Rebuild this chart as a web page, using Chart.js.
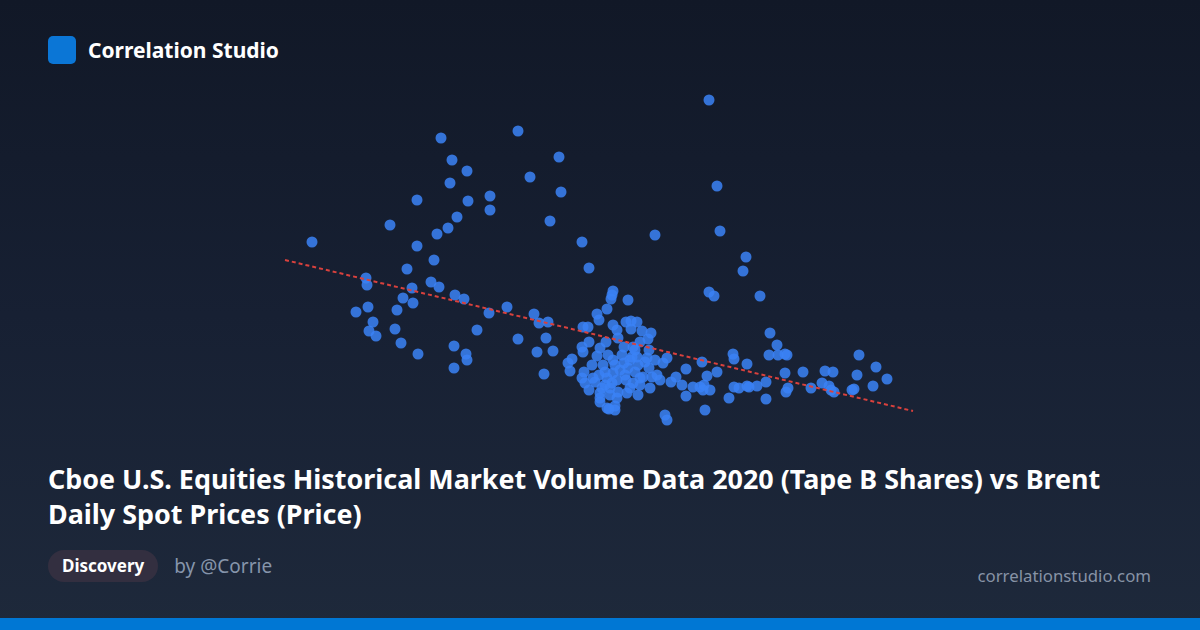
<!DOCTYPE html>
<html>
<head>
<meta charset="utf-8">
<title>Correlation Studio</title>
<script src="https://cdn.jsdelivr.net/npm/chart.js@4/dist/chart.umd.min.js"></script>
<style>
  html, body { margin: 0; padding: 0; }
  body {
    width: 1200px; height: 630px; overflow: hidden; position: relative;
    background: linear-gradient(180deg, #111827 0%, #172033 50%, #1e293b 100%);
    font-family: "Noto Sans", "Open Sans", sans-serif;
  }
  .brand { position: absolute; left: 48px; top: 36px; display: flex; align-items: center; }
  .logo { width: 28px; height: 28px; border-radius: 5px; background: #0b76d6; }
  .brand-name { margin-left: 12px; color: #fff; font-weight: 700; font-size: 21px; }
  #chartWrap { position: absolute; left: 200px; top: 80px; width: 800px; height: 360px; }
  .title {
    position: absolute; left: 48px; top: 461px; width: 1110px;
    color: #fff; font-weight: 700; font-size: 26.9px; line-height: 35px;
  }
  .meta { position: absolute; left: 48px; top: 550px; display: flex; align-items: center; }
  .badge {
    background: #332f40; color: #fff; font-weight: 700; font-size: 17px;
    height: 32px; line-height: 32px; padding: 0 14px; border-radius: 16px;
  }
  .author { margin-left: 16px; color: #8695ab; font-size: 19px; }
  .site { position: absolute; right: 49px; top: 564px; color: #8793a6; font-size: 16.8px; }
  .bar { position: absolute; left: 0; bottom: 0; width: 1200px; height: 12px; background: #0077d4; }
</style>
</head>
<body>
<div class="brand"><div class="logo"></div><div class="brand-name">Correlation Studio</div></div>
<div id="chartWrap"><canvas id="scatterChart" width="800" height="360"></canvas></div>
<div class="title">Cboe U.S. Equities Historical Market Volume Data 2020 (Tape B Shares) vs Brent Daily Spot Prices (Price)</div>
<div class="meta"><div class="badge">Discovery</div><div class="author">by @Corrie</div></div>
<div class="site">correlationstudio.com</div>
<div class="bar"></div>
<script>
// Tape B volume (millions of shares) and Brent spot price (USD)
const volume = [
  512, 590, 617, 617, 641, 652, 667, 650, 668, 690, 690, 657, 648, 637, 634, 607, 566, 567, 631, 639,
  612, 603, 613, 655, 664, 568, 556, 597, 689, 707, 573, 569, 576, 595, 677, 601, 618, 654, 666, 667,
  654,
  718, 759, 730, 761, 750, 782, 855, 789, 909, 917, 920, 946, 943, 909, 914, 960,
  734, 739, 748, 718, 746, 737, 753, 744, 768, 772, 770, 782, 783, 784, 782, 785, 789, 828, 813, 812,
  811, 807, 797, 799, 783, 788, 789, 800, 797, 792, 803, 806, 813, 817, 808, 813, 793, 805, 813, 802,
  800, 810, 807, 815,
  826, 831, 837, 831, 842, 851, 848, 840, 833, 824, 818, 815, 824, 832, 835, 838, 847, 849, 849, 852,
  857, 860, 850, 840, 833, 826, 817, 807, 799, 795, 805, 800, 810, 818, 827, 838, 817, 815, 809, 800,
  825, 843, 830, 867, 863, 865,
  828, 835, 820, 845, 840, 822, 812, 830, 855, 837,
  867, 871, 876, 882, 886, 886, 900, 903, 907, 904, 910, 905, 902, 917, 893,
  970, 977, 969, 978, 985, 987, 933, 934, 947, 934, 939, 947, 949, 957, 966, 929, 966, 985, 988, 986,
  1003, 1011, 1022, 1025, 1033, 1029, 1031, 1034, 1052, 1054, 1057, 1059, 1073, 1076, 1087
];
const price = [
  44.6, 48.0, 53.0, 43.8, 65.4, 61.0, 58.8, 56.4, 52.8, 53.8, 51.0, 49.6, 47.4, 46.2, 41.0, 39.2, 37.4, 36.0, 36.6, 35.6,
  35.4, 33.4, 32.4, 34.0, 33.2, 31.6, 30.6, 31.0, 30.4, 31.6, 28.6, 26.8, 25.8, 27.2, 27.0, 24.4, 22.2, 23.8, 22.2, 21.0,
  19.4,
  66.8, 61.6, 57.6, 54.6, 48.8, 44.6, 46.0, 39.4, 73.0, 55.8, 46.8, 41.6, 38.8, 34.6, 33.8, 33.8,
  30.2, 28.4, 28.6, 25.2, 25.4, 22.6, 22.8, 18.2, 20.4, 21.2, 18.8, 23.6, 22.6, 18.6, 17.4, 16.4, 15.0, 33.0, 34.8, 34.0,
  33.2, 31.2, 30.2, 29.0, 27.6, 27.6, 24.6, 23.4, 21.8, 20.0, 20.0, 24.6, 28.0, 27.0, 22.0, 21.0, 17.4, 18.6, 18.4, 15.4,
  13.4, 14.0, 11.4, 11.0,
  28.6, 28.8, 28.6, 27.2, 26.8, 26.4, 25.2, 24.6, 23.6, 23.6, 25.4, 20.0, 20.4, 21.6, 23.0, 20.0, 21.4, 23.0, 19.4, 17.6,
  18.0, 17.0, 15.4, 16.0, 16.4, 17.0, 17.0, 17.4, 18.0, 16.6, 16.0, 14.4, 15.4, 14.6, 14.4, 14.0, 13.4, 11.8, 11.2, 12.6,
  18.0, 17.6, 21.0, 21.4, 20.4, 10.0,
  19.4, 18.6, 19.0, 20.6, 17.4, 22.0, 16.4, 15.4, 21.0, 21.6,
  9.0, 16.6, 17.6, 16.0, 19.2, 13.8, 15.6, 15.0, 17.8, 16.0, 15.0, 11.0, 20.6, 18.6, 15.6,
  26.4, 24.0, 22.0, 22.0, 22.2, 22.0, 22.2, 21.2, 20.2, 15.6, 15.4, 15.8, 15.6, 15.8, 16.6, 13.4, 13.2, 18.4, 15.4, 14.6,
  18.6, 15.4, 16.4, 18.8, 18.6, 15.8, 15.0, 14.6, 15.0, 15.2, 18.0, 22.0, 15.8, 19.6, 17.2
];
// trend line ends
const trendVolume = [485, 1113];
const trendPrice = [41.0, 10.8];

document.addEventListener('DOMContentLoaded', function() {
    const points = volume.map((v, i) => ({ x: v, y: price[i] }));
    const trend = trendVolume.map((v, i) => ({ x: v, y: trendPrice[i] }));

    const ctx = document.getElementById('scatterChart');
    new Chart(ctx, {
        type: 'scatter',
        data: {
            datasets: [{
                label: 'Trend',
                type: 'line',
                data: trend,
                borderColor: '#d9413d',
                borderWidth: 2,
                borderDash: [4, 3],
                pointRadius: 0,
                fill: false,
                order: 0
            }, {
                label: 'Days',
                data: points,
                backgroundColor: 'rgba(59, 130, 246, 0.85)',
                borderWidth: 0,
                pointRadius: 5.5,
                pointHoverRadius: 5.5,
                order: 1
            }]
        },
        options: {
            responsive: false,
            animation: false,
            layout: { padding: 0, autoPadding: false },
            plugins: {
                legend: { display: false },
                tooltip: { enabled: false }
            },
            scales: {
                x: { type: 'linear', min: 400, max: 1200, display: false },
                y: { type: 'linear', min: 5, max: 77, display: false }
            }
        }
    });
});
</script>
</body>
</html>
